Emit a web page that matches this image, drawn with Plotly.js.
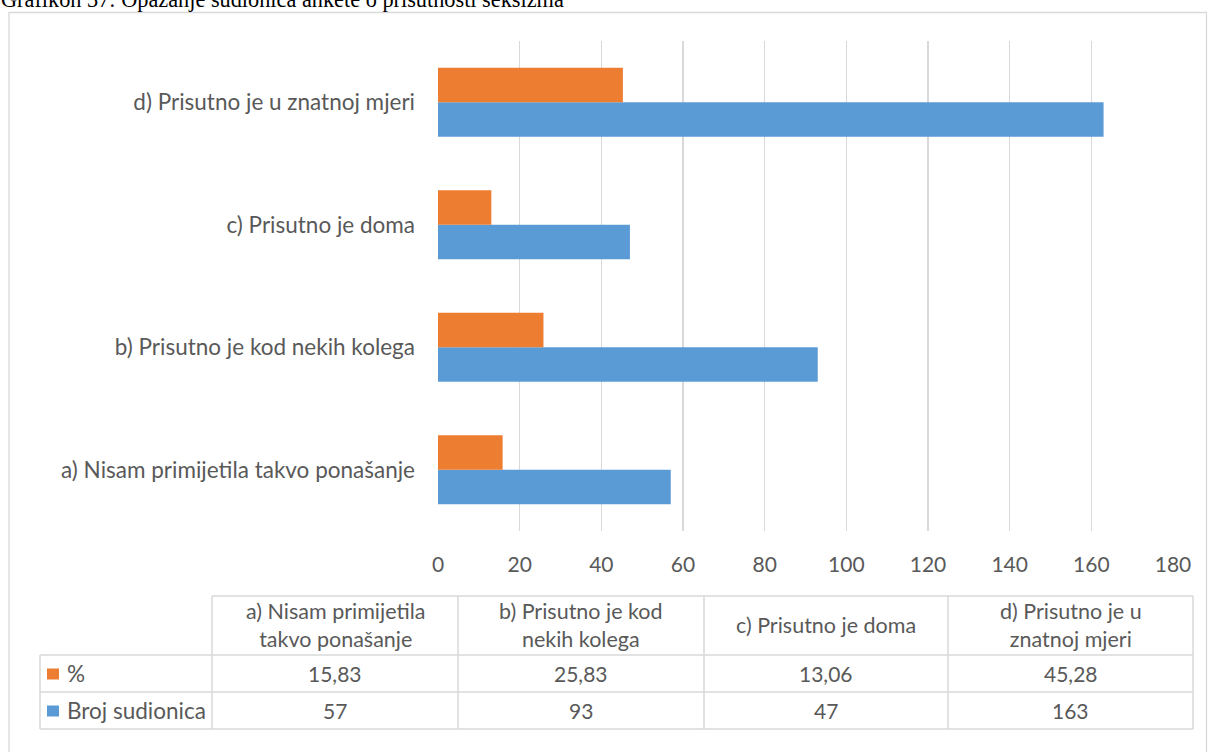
<!DOCTYPE html>
<html>
<head>
<meta charset="utf-8">
<script src="https://cdn.plot.ly/plotly-3.0.1.min.js"></script>
<style>html,body{margin:0;padding:0;background:#fff;}#chart{width:1209px;height:752px;}</style>
</head>
<body>
<div id="chart"></div>
<script>
// ---- data ----
const categories = ['a) Nisam primijetila takvo ponašanje', 'b) Prisutno je kod nekih kolega', 'c) Prisutno je doma', 'd) Prisutno je u znatnoj mjeri'];
const tableHeaderLines = [['a) Nisam primijetila', 'takvo ponašanje'], ['b) Prisutno je kod', 'nekih kolega'], ['c) Prisutno je doma'], ['d) Prisutno je u', 'znatnoj mjeri']];
const percentValues = [15.83, 25.83, 13.06, 45.28];
const countValues = [57, 93, 47, 163];
const seriesNames = ['%', 'Broj sudionica'];
const xTicks = [0, 20, 40, 60, 80, 100, 120, 140, 160, 180];
const chartTitle = 'Grafikon 37: Opažanje sudionica ankete o prisutnosti seksizma';

// ---- layout helpers (pixel -> paper) ----
const W = 1209, H = 752, L = 438, R = 1173, T = 41, B = 531;
const px = x => (x - L) / (R - L);
const py = y => (B - y) / (B - T);
const FONT = 'Lato, "Open Sans", sans-serif';
const GREY = '#595959';
const LINE = '#d9d9d9';
const ORANGE = '#ed7d31', BLUE = '#5b9bd5';
const TXT = 22.5, NUM = 21, HDR = 21.5;

const traces = [
  {type: 'bar', orientation: 'h', name: seriesNames[1], y: categories, x: countValues,
   marker: {color: BLUE}, hoverinfo: 'x'},
  {type: 'bar', orientation: 'h', name: seriesNames[0], y: categories, x: percentValues,
   marker: {color: ORANGE}, hoverinfo: 'x'}
];

const shapes = [];
const annotations = [];
const hline = (x0, x1, y) => shapes.push({type: 'line', xref: 'paper', yref: 'paper', x0: px(x0), x1: px(x1), y0: py(y), y1: py(y), line: {color: LINE, width: 1.5}});
const vline = (x, y0, y1) => shapes.push({type: 'line', xref: 'paper', yref: 'paper', x0: px(x), x1: px(x), y0: py(y0), y1: py(y1), line: {color: LINE, width: 1.5}});

// outer chart border
shapes.push({type: 'rect', xref: 'paper', yref: 'paper', x0: px(9), x1: px(1206.5), y0: py(12.5), y1: py(770), line: {color: LINE, width: 1.3}, fillcolor: 'rgba(0,0,0,0)'});

// data table
const colX = [212, 458, 704, 948, 1193];
const rowY = [596, 655, 692, 729];
const tableLeft = 40;
hline(colX[0], colX[4], rowY[0]);
for (let i = 1; i < rowY.length; i++) hline(tableLeft, colX[4], rowY[i]);
vline(tableLeft, rowY[1], rowY[3]);
colX.forEach(x => vline(x, rowY[0], rowY[3]));

const textAnn = (x, y, text, size, xanchor) => annotations.push({xref: 'paper', yref: 'paper', x: px(x), y: py(y), text: text, showarrow: false, xanchor: xanchor || 'center', yanchor: 'middle', font: {family: FONT, size: size, color: GREY}});

tableHeaderLines.forEach((lines, i) => {
  const xc = (colX[i] + colX[i + 1]) / 2;
  textAnn(xc, (rowY[0] + rowY[1]) / 2 - 1, lines.join('<br>'), HDR);
});
const rowsData = [percentValues.map(v => v.toFixed(2).replace('.', ',')), countValues.map(String)];
rowsData.forEach((row, r) => {
  const yc = (rowY[r + 1] + rowY[r + 2]) / 2;
  row.forEach((v, i) => textAnn((colX[i] + colX[i + 1]) / 2, yc, v, NUM));
});
// legend keys in the table
[[seriesNames[0], ORANGE], [seriesNames[1], BLUE]].forEach(([name, col], r) => {
  const yc = (rowY[r + 1] + rowY[r + 2]) / 2;
  shapes.push({type: 'rect', xref: 'paper', yref: 'paper', x0: px(47), x1: px(59), y0: py(yc - 5), y1: py(yc + 6), fillcolor: col, line: {width: 0}});
  textAnn(65, yc, name, TXT, 'left');
});

// title (partially cut at top of the image)
annotations.push({xref: 'paper', yref: 'paper', x: px(-1), y: py(-15), text: chartTitle, showarrow: false,
  xanchor: 'left', yanchor: 'top', font: {family: '"Liberation Serif", "Times New Roman", serif', size: 22.3, color: '#000'}});

const layout = {
  width: W, height: H,
  margin: {l: L, r: W - R, t: T, b: H - B, pad: 0},
  paper_bgcolor: '#fff', plot_bgcolor: '#fff',
  showlegend: false,
  barmode: 'group', bargap: 0.437, bargroupgap: 0,
  font: {family: FONT, color: GREY, size: TXT},
  xaxis: {range: [0, 180], tickvals: xTicks, ticktext: xTicks.map(String), showgrid: true, gridcolor: LINE, gridwidth: 1.5,
          zeroline: false, showline: false, ticks: '', ticklabelstandoff: 19, tickfont: {family: FONT, size: NUM, color: GREY}, fixedrange: true},
  yaxis: {type: 'category', categoryorder: 'array', categoryarray: categories, showgrid: false, zeroline: false, showline: false,
          ticks: '', ticklabelstandoff: 22, tickfont: {family: FONT, size: TXT, color: GREY}, fixedrange: true},
  shapes: shapes,
  annotations: annotations
};

Plotly.newPlot('chart', traces, layout, {displayModeBar: false, staticPlot: true});
</script>
</body>
</html>
